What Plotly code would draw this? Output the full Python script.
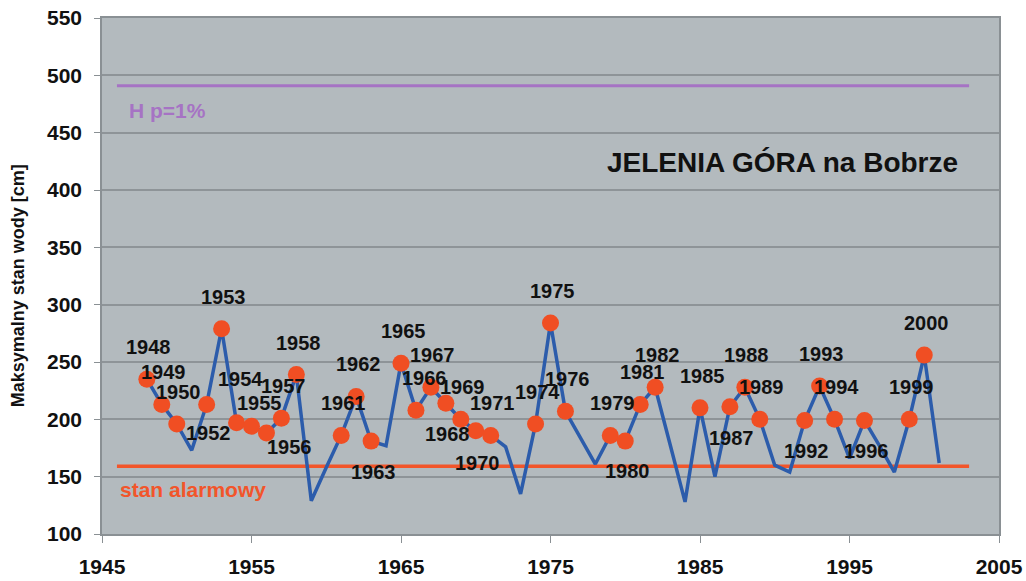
import plotly.graph_objects as go

# ---- data ----
years = list(range(1948, 2002))
levels = [235, 213, 196, 173, 213, 279, 197, 194, 188, 201,
          239, 129, 158, 186, 220, 181, 177, 249, 208, 228,
          214, 200, 190, 186, 176, 135, 196, 284, 207, 184,
          161, 186, 181, 213, 228, 178, 128, 210, 150, 211,
          228, 200, 160, 154, 199, 229, 200, 166, 199, 177,
          154, 200, 256, 162]
labeled_years = [1948, 1949, 1950, 1952, 1953, 1954, 1955, 1956, 1957, 1958,
                 1961, 1962, 1963, 1965, 1966, 1967, 1968, 1969, 1970, 1971,
                 1974, 1975, 1976, 1979, 1980, 1981, 1982, 1985, 1987, 1988,
                 1989, 1992, 1993, 1994, 1996, 1999, 2000]
hp_years = [1946, 2003]
hp_level = [491, 491]
alarm_years = [1946, 2003]
alarm_level = [159, 159]
hp_label = "H p=1%"
alarm_label = "stan alarmowy"
station_title = "JELENIA GÓRA na Bobrze"
y_title = "Maksymalny stan wody [cm]"
x_ticks = [1945, 1955, 1965, 1975, 1985, 1995, 2005]
y_ticks = [100, 150, 200, 250, 300, 350, 400, 450, 500, 550]

# ---- styles ----
FONT = "Liberation Sans, Arial, sans-serif"
BLUE = "#2c5cab"
RED = "#f04e23"
PURPLE = "#a673c4"
ALARM = "#f2552a"

# label offsets (px): default above
label_shift = {1952: (2, -29), 1954: (4, 44), 1955: (8, 23), 1956: (23, -14),
               1963: (2, -31), 1966: (9, 32), 1968: (2, -31), 1970: (2, -32),
               1980: (2, -30), 1987: (2, -31), 1992: (2, -31), 1996: (2, -31)}

lvl = dict(zip(years, levels))
mk_y = [lvl[y] for y in labeled_years]

fig = go.Figure()
fig.add_trace(go.Scatter(x=hp_years, y=hp_level, mode="lines",
                         line=dict(color=PURPLE, width=3), hoverinfo="skip"))
fig.add_trace(go.Scatter(x=alarm_years, y=alarm_level, mode="lines",
                         line=dict(color=ALARM, width=3.5), hoverinfo="skip"))
fig.add_trace(go.Scatter(x=years, y=levels, mode="lines",
                         line=dict(color=BLUE, width=3.5)))
fig.add_trace(go.Scatter(x=labeled_years, y=mk_y, mode="markers",
                         marker=dict(color=RED, size=17, line=dict(width=0))))

anns = []
for yr, v in zip(labeled_years, mk_y):
    dx, dy = label_shift.get(yr, (2, 32))
    anns.append(dict(x=yr, y=v, text=f"<b>{yr}</b>", showarrow=False,
                     xshift=dx, yshift=dy,
                     font=dict(family=FONT, size=20, color="#111111")))
anns.append(dict(x=1946.7, y=469, text=f"<b>{hp_label}</b>", showarrow=False,
                 xanchor="left", yanchor="middle",
                 font=dict(family=FONT, size=21, color=PURPLE)))
anns.append(dict(x=1946.1, y=138.5, text=f"<b>{alarm_label}</b>", showarrow=False,
                 xanchor="left", yanchor="middle",
                 font=dict(family=FONT, size=21, color=ALARM)))
anns.append(dict(x=2002.4, y=424, text=f"<b>{station_title}</b>", showarrow=False,
                 xanchor="right", yanchor="middle",
                 font=dict(family=FONT, size=28, color="#111111")))
anns.append(dict(xref="paper", yref="paper", x=-(102 - 18) / 897, y=0.48,
                 text=f"<b>{y_title}</b>", showarrow=False, textangle=-90,
                 xanchor="center", yanchor="middle",
                 font=dict(family=FONT, size=18, color="#111111")))

fig.update_layout(
    width=1026, height=581,
    margin=dict(l=102, r=27, t=18, b=47, autoexpand=False),
    paper_bgcolor="white", plot_bgcolor="#b3babe",
    showlegend=False, annotations=anns,
    font=dict(family=FONT, color="#111111"),
)
fig.update_xaxes(range=[1945, 2005], tickvals=x_ticks,
                 ticktext=[f"<b>{t}</b>" for t in x_ticks],
                 tickfont=dict(size=21, family=FONT, color="#111111"),
                 showgrid=False, zeroline=False, automargin=False,
                 showline=True, linecolor="#8a9094", linewidth=1.5, mirror=True,
                 ticks="outside", ticklen=7, tickcolor="#8a9094",
                 ticklabelstandoff=6)
fig.update_yaxes(range=[100, 550], tickvals=y_ticks,
                 ticktext=[f"<b>{t}</b>" for t in y_ticks],
                 tickfont=dict(size=21, family=FONT, color="#111111"),
                 showgrid=True, gridcolor="#8e9498", gridwidth=1.5, zeroline=False,
                 automargin=False,
                 showline=True, linecolor="#8a9094", linewidth=1.5, mirror=True,
                 ticks="outside", ticklen=6, tickcolor="#8a9094",
                 ticklabelstandoff=8)

fig.write_html("out.html", config={"displayModeBar": False},
               post_script="document.body.style.margin='0';document.body.style.overflow='hidden';")
